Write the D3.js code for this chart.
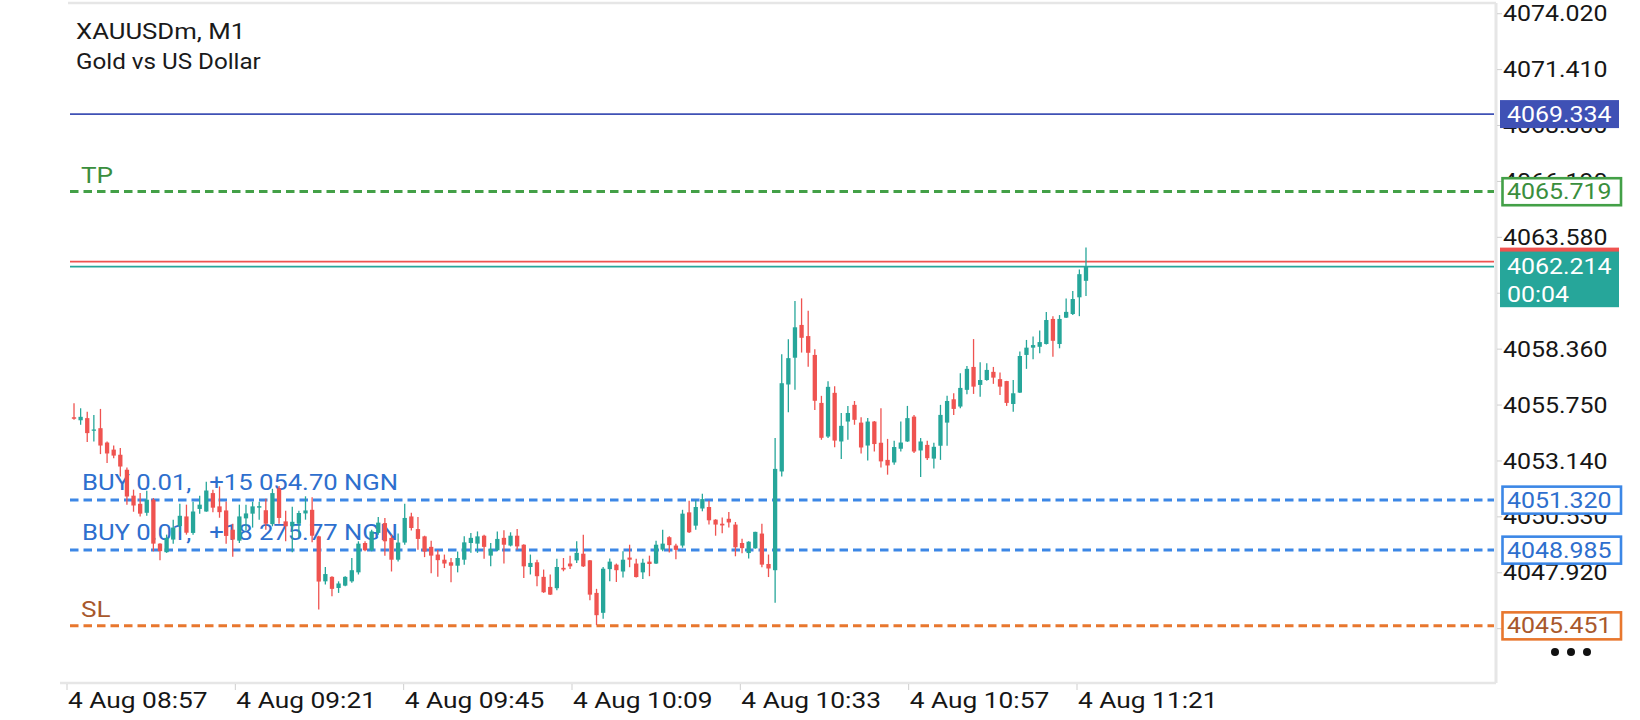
<!DOCTYPE html>
<html>
<head>
<meta charset="utf-8">
<script src="https://cdn.jsdelivr.net/npm/d3@7"></script>
<style>
  html, body { margin: 0; padding: 0; background: #fff; }
  svg { display: block; font-family: Roboto, "Noto Sans", sans-serif; }
</style>
</head>
<body>
<svg id="chart" width="1640" height="720"></svg>
<script>
var symbolName = "XAUUSDm, M1"
var symbolDesc = "Gold vs US Dollar"

// M1 candles, oldest first
var opens = [
  4055.18, 4055.04, 4055.14, 4054.55, 4054.67, 4054.00, 4053.67, 4053.43, 4052.73, 4051.52,
  4051.14, 4050.72, 4051.33, 4049.28, 4048.88, 4049.47, 4050.10, 4050.55, 4049.78, 4050.90,
  4050.78, 4051.64, 4051.02, 4050.83, 4049.93, 4049.42, 4050.46, 4050.68, 4050.96, 4050.84,
  4050.19, 4051.86, 4050.32, 4050.09, 4050.21, 4050.69, 4050.86, 4049.62, 4047.52, 4047.73,
  4047.21, 4047.32, 4047.52, 4047.94, 4049.31, 4048.97, 4049.78, 4050.24, 4049.55, 4048.53,
  4049.33, 4050.55, 4049.96, 4049.62, 4049.13, 4048.77, 4048.53, 4048.41, 4048.25, 4048.53,
  4049.31, 4049.28, 4049.65, 4048.72, 4048.97, 4049.55, 4049.19, 4049.65, 4049.23, 4048.19,
  4048.41, 4047.73, 4047.26, 4047.20, 4048.15, 4048.35, 4048.50, 4048.81, 4048.50, 4046.98,
  4046.05, 4048.09, 4048.30, 4047.98, 4048.63, 4048.35, 4047.94, 4048.44, 4048.35, 4049.00,
  4049.58, 4049.19, 4049.19, 4050.74, 4050.12, 4050.92, 4050.99, 4050.40, 4050.21, 4050.44,
  4050.17, 4049.31, 4048.84, 4049.06, 4049.75, 4048.33, 4048.04, 4052.65, 4056.71, 4057.96,
  4059.49, 4058.97, 4058.09, 4055.85, 4054.28, 4056.32, 4054.05, 4054.98, 4055.76, 4054.93,
  4053.86, 4054.98, 4053.99, 4053.19, 4053.07, 4053.71, 4054.05, 4055.21, 4053.63, 4053.89,
  4053.25, 4053.85, 4054.93, 4056.02, 4055.68, 4056.46, 4057.53, 4056.69, 4056.92, 4057.30,
  4056.96, 4056.87, 4055.80, 4056.33, 4058.09, 4058.43, 4058.47, 4058.60, 4059.77, 4058.60,
  4059.83, 4060.00, 4060.78, 4061.55]
var highs = [
  4055.84, 4055.60, 4055.44, 4055.29, 4055.57, 4054.05, 4053.86, 4053.74, 4052.84, 4051.80,
  4051.64, 4051.75, 4051.41, 4049.30, 4049.70, 4050.40, 4051.14, 4051.10, 4051.24, 4051.52,
  4052.17, 4051.80, 4051.95, 4051.25, 4050.21, 4051.10, 4051.10, 4051.24, 4051.24, 4051.38,
  4051.84, 4051.97, 4050.82, 4051.00, 4050.82, 4051.49, 4051.45, 4049.65, 4048.19, 4047.76,
  4047.52, 4047.76, 4048.61, 4049.39, 4049.39, 4049.93, 4050.52, 4050.48, 4049.70, 4049.75,
  4051.14, 4050.72, 4050.52, 4049.65, 4049.42, 4048.98, 4048.77, 4048.61, 4048.91, 4049.62,
  4049.78, 4049.85, 4049.70, 4049.31, 4049.85, 4049.90, 4049.81, 4049.96, 4049.25, 4048.77,
  4048.53, 4048.07, 4047.84, 4048.57, 4048.61, 4048.72, 4049.39, 4049.70, 4048.52, 4047.17,
  4048.19, 4048.59, 4048.35, 4048.92, 4049.23, 4048.58, 4048.57, 4048.72, 4049.42, 4049.93,
  4049.62, 4049.28, 4050.86, 4051.28, 4051.31, 4051.61, 4051.28, 4050.42, 4050.50, 4050.76,
  4050.29, 4049.51, 4049.39, 4049.84, 4050.21, 4048.77, 4054.21, 4058.12, 4058.82, 4060.61,
  4060.73, 4060.15, 4058.36, 4056.18, 4056.86, 4056.63, 4055.38, 4055.71, 4055.94, 4055.18,
  4055.14, 4055.00, 4055.60, 4054.17, 4054.08, 4054.98, 4055.71, 4055.29, 4054.21, 4054.08,
  4053.99, 4055.76, 4056.18, 4056.30, 4057.23, 4057.57, 4058.83, 4057.75, 4057.70, 4057.53,
  4057.27, 4056.88, 4056.92, 4058.25, 4058.79, 4058.95, 4059.23, 4060.09, 4059.89, 4059.95,
  4060.73, 4061.07, 4062.08, 4063.11]
var lows = [
  4055.06, 4054.83, 4054.02, 4054.05, 4053.46, 4053.04, 4053.27, 4052.42, 4051.10, 4050.77,
  4050.55, 4050.58, 4048.92, 4048.51, 4048.85, 4049.28, 4049.84, 4049.70, 4049.70, 4050.68,
  4050.77, 4050.75, 4050.49, 4049.28, 4048.67, 4049.31, 4049.89, 4050.03, 4050.40, 4049.93,
  4050.09, 4050.21, 4049.39, 4048.88, 4049.56, 4050.40, 4049.35, 4046.20, 4047.37, 4046.82,
  4046.98, 4047.29, 4047.45, 4047.84, 4048.92, 4048.92, 4049.70, 4048.72, 4047.98, 4048.45,
  4049.23, 4049.89, 4049.00, 4048.65, 4047.90, 4047.74, 4048.14, 4047.48, 4047.94, 4048.30,
  4048.85, 4048.85, 4048.57, 4048.22, 4048.92, 4048.35, 4049.15, 4049.00, 4047.68, 4047.84,
  4047.29, 4046.98, 4046.88, 4047.10, 4047.99, 4048.10, 4048.38, 4048.19, 4046.64, 4045.47,
  4045.77, 4047.52, 4047.49, 4047.70, 4048.18, 4047.70, 4047.63, 4047.76, 4048.33, 4048.92,
  4048.87, 4048.55, 4049.09, 4049.78, 4049.93, 4050.79, 4050.17, 4049.65, 4049.76, 4050.03,
  4048.69, 4048.83, 4048.59, 4049.04, 4048.18, 4047.72, 4046.52, 4052.42, 4055.41, 4056.47,
  4058.20, 4057.54, 4055.52, 4054.13, 4054.21, 4053.78, 4053.23, 4054.13, 4054.83, 4053.49,
  4053.16, 4053.58, 4052.84, 4052.50, 4052.96, 4053.58, 4054.03, 4053.51, 4052.39, 4053.19,
  4052.79, 4053.19, 4053.85, 4055.28, 4055.60, 4056.26, 4056.27, 4056.14, 4056.89, 4056.74,
  4056.22, 4055.71, 4055.44, 4056.31, 4057.44, 4057.89, 4058.17, 4058.58, 4058.01, 4058.40,
  4059.81, 4059.95, 4059.90, 4060.84]
var closes = [
  4055.11, 4055.20, 4054.44, 4054.61, 4053.86, 4053.49, 4053.39, 4052.88, 4051.48, 4051.06,
  4050.68, 4051.33, 4049.28, 4048.93, 4049.55, 4050.03, 4050.58, 4049.79, 4050.78, 4051.10,
  4051.76, 4050.96, 4050.75, 4049.64, 4049.47, 4050.55, 4050.69, 4051.02, 4051.03, 4050.21,
  4051.64, 4050.48, 4050.09, 4050.30, 4050.71, 4050.83, 4049.65, 4047.51, 4047.86, 4047.17,
  4047.42, 4047.73, 4048.04, 4049.28, 4048.97, 4049.85, 4050.26, 4049.39, 4048.53, 4049.33,
  4050.48, 4050.01, 4049.50, 4048.91, 4048.72, 4048.51, 4048.35, 4048.25, 4048.61, 4049.34,
  4049.55, 4049.62, 4049.13, 4049.03, 4049.50, 4049.23, 4049.65, 4049.15, 4048.22, 4048.38,
  4047.76, 4047.01, 4046.90, 4048.19, 4048.07, 4048.22, 4048.85, 4048.22, 4046.90, 4045.94,
  4048.11, 4048.44, 4048.04, 4048.53, 4048.53, 4047.72, 4048.39, 4048.33, 4049.23, 4049.28,
  4049.21, 4048.99, 4050.68, 4049.81, 4050.99, 4051.36, 4050.37, 4050.17, 4050.13, 4050.27,
  4049.11, 4049.07, 4049.37, 4049.83, 4048.30, 4048.12, 4052.77, 4056.77, 4057.94, 4059.38,
  4058.89, 4058.19, 4055.95, 4054.22, 4056.60, 4054.09, 4054.78, 4055.38, 4055.06, 4053.77,
  4054.98, 4053.93, 4053.12, 4052.93, 4053.79, 4054.00, 4055.14, 4053.58, 4054.05, 4053.27,
  4053.80, 4055.29, 4055.94, 4055.57, 4056.55, 4057.44, 4056.61, 4056.92, 4057.39, 4057.03,
  4056.61, 4055.85, 4056.30, 4058.04, 4058.43, 4058.55, 4058.69, 4059.72, 4058.75, 4059.77,
  4060.10, 4060.70, 4061.86, 4062.214]

var priceTicks = [4074.020, 4071.410, 4068.800, 4066.190, 4063.580, 4060.970,
                  4058.360, 4055.750, 4053.140, 4050.530, 4047.920, 4045.310]
var tickDay = "4 Aug"
var timeTicks = ["08:57", "09:21", "09:45", "10:09", "10:33", "10:57", "11:21"]

var bidPrice = 4062.214
var askPrice = 4062.447
var countdown = "00:04"
var alertPrice = 4069.334
var tpPrice = 4065.719
var slPrice = 4045.451
var buyPrices = [4051.320, 4048.985]
var buyVolumes = ["0.01", "0.01"]
var buyProfits = ["+15 054.70 NGN", "+18 275.77 NGN"]

var colorDictionary = {
  "up": "#26A69A",
  "down": "#EF5350",
  "alert": "#3F51B5",
  "tp": "#43A047",
  "tpText": "#3A8E3D",
  "buy": "#3C87E6",
  "buyText": "#2E6FCE",
  "sl": "#E8772E",
  "slText": "#A8582C",
  "frame": "#E6E6E6",
  "text": "#161616"
}

var plotLeft = 68, plotRight = 1496, plotTop = 3, plotBottom = 683
var sx = 1.16   // text in the capture is a bit wider than Roboto
var fmt = d3.format(".3f")

var svg = d3.select("#chart")

var y = d3.scaleLinear().domain([4042.774, 4074.520]).range([plotBottom, plotTop])
var x = d3.scaleBand().domain(d3.range(opens.length)).range([70.7, 1089.3])
  .paddingInner(0.35).paddingOuter(0.175)
var parseTime = d3.utcParse("%H:%M")
var xTime = d3.scaleUtc()
  .domain([parseTime(timeTicks[0]), parseTime(timeTicks[timeTicks.length - 1])])
  .range([68, 1078])

function addText(parent, px, py, str, size, color, scaleX) {
  return parent.append("text")
    .attr("transform", "translate(" + px + "," + py + ") scale(" + (scaleX || sx) + ",1)")
    .attr("font-size", size)
    .attr("fill", color)
    .style("white-space", "pre")
    .text(str)
}

function hLine(price, color, width, dash) {
  svg.append("line")
    .attr("x1", 70).attr("x2", plotRight - 2)
    .attr("y1", y(price)).attr("y2", y(price))
    .attr("stroke", color)
    .attr("stroke-width", width)
    .attr("stroke-dasharray", dash || null)
}

// frame
svg.append("line").attr("x1", plotLeft).attr("x2", plotRight).attr("y1", plotTop).attr("y2", plotTop)
  .attr("stroke", colorDictionary.frame).attr("stroke-width", 2.5)
svg.append("line").attr("x1", plotRight).attr("x2", plotRight).attr("y1", plotTop).attr("y2", plotBottom)
  .attr("stroke", colorDictionary.frame).attr("stroke-width", 3)
svg.append("line").attr("x1", plotLeft - 8).attr("x2", plotRight).attr("y1", plotBottom).attr("y2", plotBottom)
  .attr("stroke", colorDictionary.frame).attr("stroke-width", 2.5)

// header
addText(svg, 76, 38.5, symbolName, 22, "#1a1a1a", 1.17)
addText(svg, 76, 69, symbolDesc, 22, "#1a1a1a", 1.1)

// level lines
hLine(alertPrice, colorDictionary.alert, 1.6)
hLine(tpPrice, colorDictionary.tp, 3, "8.5,5")
hLine(askPrice, colorDictionary.down, 1.6)
hLine(bidPrice, colorDictionary.up, 1.6)
buyPrices.forEach(function(p) { hLine(p, colorDictionary.buy, 3, "8.5,5") })
hLine(slPrice, colorDictionary.sl, 3, "8.5,5")

addText(svg, 81, y(tpPrice) - 9, "TP", 22.5, colorDictionary.tpText)
addText(svg, 81, y(slPrice) - 9, "SL", 22.5, colorDictionary.slText)
buyPrices.forEach(function(p, i) {
  var t = addText(svg, 82, y(p) - 9.5, "", 22.5, colorDictionary.buyText, 1.14)
  t.append("tspan").text("BUY " + buyVolumes[i] + ",  ")
  t.append("tspan").attr("dx", 4.5).text(buyProfits[i])
})

// candles
var candles = svg.append("g").selectAll("g").data(d3.range(opens.length)).enter().append("g")
candles.append("line")
  .attr("x1", function(i) { return x(i) + x.bandwidth() / 2 })
  .attr("x2", function(i) { return x(i) + x.bandwidth() / 2 })
  .attr("y1", function(i) { return y(highs[i]) })
  .attr("y2", function(i) { return y(lows[i]) })
  .attr("stroke", function(i) { return closes[i] >= opens[i] ? colorDictionary.up : colorDictionary.down })
  .attr("stroke-width", 1.3)
candles.append("rect")
  .attr("x", function(i) { return x(i) })
  .attr("width", x.bandwidth())
  .attr("y", function(i) { return y(Math.max(opens[i], closes[i])) })
  .attr("height", function(i) { return Math.max(1.2, Math.abs(y(opens[i]) - y(closes[i]))) })
  .attr("fill", function(i) { return closes[i] >= opens[i] ? colorDictionary.up : colorDictionary.down })

// price axis
var yAxis = svg.append("g")
yAxis.selectAll("line").data(priceTicks).enter().append("line")
  .attr("x1", plotRight + 1).attr("x2", plotRight + 6)
  .attr("y1", function(d) { return y(d) }).attr("y2", function(d) { return y(d) })
  .attr("stroke", "#cfcfcf")
priceTicks.forEach(function(d) {
  addText(yAxis, 1503, y(d) + 7.6, fmt(d), 21.5, colorDictionary.text)
})

// time axis
var tAxis = svg.append("g")
tAxis.selectAll("line").data(timeTicks).enter().append("line")
  .attr("x1", function(d) { return xTime(parseTime(d)) - 1 })
  .attr("x2", function(d) { return xTime(parseTime(d)) - 1 })
  .attr("y1", plotBottom + 1).attr("y2", plotBottom + 7)
  .attr("stroke", "#cfcfcf")
timeTicks.forEach(function(d) {
  addText(tAxis, xTime(parseTime(d)), 707.5, tickDay + " " + d, 22.5, colorDictionary.text, 1.17)
})

// price tags on the axis
function filledTag(price, color) {
  svg.append("rect").attr("x", 1500).attr("y", y(price) - 14).attr("width", 119).attr("height", 28)
    .attr("fill", color)
  addText(svg, 1507, y(price) + 7.6, fmt(price), 21.5, "#fff")
}
function outlineTag(price, color, textColor) {
  svg.append("rect").attr("x", 1502.5).attr("y", y(price) - 13.3).attr("width", 118.5).attr("height", 27)
    .attr("fill", "#fff").attr("stroke", color).attr("stroke-width", 2.6)
  addText(svg, 1507, y(price) + 7.6, fmt(price), 21.5, textColor)
}

filledTag(alertPrice, colorDictionary.alert)
outlineTag(tpPrice, colorDictionary.tp, colorDictionary.tpText)
buyPrices.forEach(function(p) { outlineTag(p, colorDictionary.buy, colorDictionary.buyText) })
outlineTag(slPrice, colorDictionary.sl, colorDictionary.slText)

svg.append("rect").attr("x", 1500).attr("y", y(askPrice) - 14).attr("width", 119).attr("height", 28)
  .attr("fill", colorDictionary.down)
svg.append("rect").attr("x", 1500).attr("y", y(bidPrice) - 15).attr("width", 119).attr("height", 55.6)
  .attr("fill", colorDictionary.up)
addText(svg, 1507, y(bidPrice) + 7.6, fmt(bidPrice), 21.5, "#fff")
addText(svg, 1507, y(bidPrice) + 35.2, countdown, 21.5, "#fff")

// menu dots
svg.selectAll("circle.dot").data([0, 1, 2]).enter().append("circle")
  .attr("class", "dot")
  .attr("cx", function(d) { return 1555 + d * 16 })
  .attr("cy", 652).attr("r", 4)
  .attr("fill", "#111")
</script>
</body>
</html>
